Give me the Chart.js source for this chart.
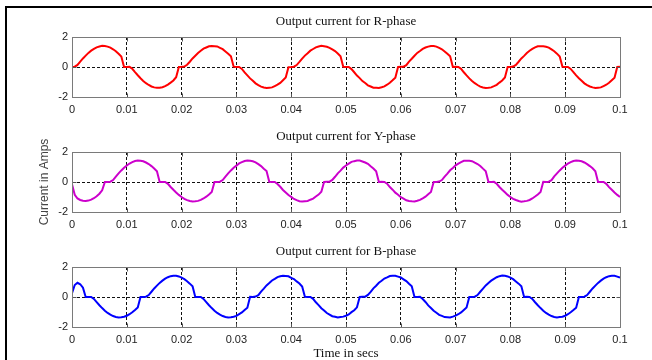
<!DOCTYPE html>
<html>
<head>
<meta charset="utf-8">
<title>Output currents</title>
<script src="https://cdn.jsdelivr.net/npm/chart.js@4.4.0/dist/chart.umd.min.js"></script>
<style>
  body { margin: 0; background: #fff; width: 652px; height: 360px; overflow: hidden; position: relative; }
  #frame { position: absolute; left: 5px; top: 6px; width: 700px; height: 400px; border-top: 2px solid #000; border-left: 2px solid #000; }
  canvas { position: absolute; left: 0; }
</style>
</head>
<body>
<div id="frame"></div>
<canvas id="rChart" width="652" height="115" style="top:0px"></canvas>
<canvas id="yChart" width="652" height="115" style="top:115px"></canvas>
<canvas id="bChart" width="652" height="130" style="top:230px"></canvas>
<script>
// sample instants, seconds
const timeSecs = [
  0, 0.0005, 0.001, 0.0015, 0.002, 0.0025, 0.003, 0.0035, 0.004, 0.0045, 0.005, 0.0055, 0.006, 0.0065, 0.007, 0.0075, 0.008, 0.0085, 0.009, 0.0095,
  0.01, 0.0105, 0.011, 0.0115, 0.012, 0.0125, 0.013, 0.0135, 0.014, 0.0145, 0.015, 0.0155, 0.016, 0.0165, 0.017, 0.0175, 0.018, 0.0185, 0.019, 0.0195,
  0.02, 0.0205, 0.021, 0.0215, 0.022, 0.0225, 0.023, 0.0235, 0.024, 0.0245, 0.025, 0.0255, 0.026, 0.0265, 0.027, 0.0275, 0.028, 0.0285, 0.029, 0.0295,
  0.03, 0.0305, 0.031, 0.0315, 0.032, 0.0325, 0.033, 0.0335, 0.034, 0.0345, 0.035, 0.0355, 0.036, 0.0365, 0.037, 0.0375, 0.038, 0.0385, 0.039, 0.0395,
  0.04, 0.0405, 0.041, 0.0415, 0.042, 0.0425, 0.043, 0.0435, 0.044, 0.0445, 0.045, 0.0455, 0.046, 0.0465, 0.047, 0.0475, 0.048, 0.0485, 0.049, 0.0495,
  0.05, 0.0505, 0.051, 0.0515, 0.052, 0.0525, 0.053, 0.0535, 0.054, 0.0545, 0.055, 0.0555, 0.056, 0.0565, 0.057, 0.0575, 0.058, 0.0585, 0.059, 0.0595,
  0.06, 0.0605, 0.061, 0.0615, 0.062, 0.0625, 0.063, 0.0635, 0.064, 0.0645, 0.065, 0.0655, 0.066, 0.0665, 0.067, 0.0675, 0.068, 0.0685, 0.069, 0.0695,
  0.07, 0.0705, 0.071, 0.0715, 0.072, 0.0725, 0.073, 0.0735, 0.074, 0.0745, 0.075, 0.0755, 0.076, 0.0765, 0.077, 0.0775, 0.078, 0.0785, 0.079, 0.0795,
  0.08, 0.0805, 0.081, 0.0815, 0.082, 0.0825, 0.083, 0.0835, 0.084, 0.0845, 0.085, 0.0855, 0.086, 0.0865, 0.087, 0.0875, 0.088, 0.0885, 0.089, 0.0895,
  0.09, 0.0905, 0.091, 0.0915, 0.092, 0.0925, 0.093, 0.0935, 0.094, 0.0945, 0.095, 0.0955, 0.096, 0.0965, 0.097, 0.0975, 0.098, 0.0985, 0.099, 0.0995,
  0.1
];

// phase currents, amps
const rPhaseAmps = [
  0, 0.02, 0.14, 0.36, 0.57, 0.76, 0.94, 1.09, 1.21, 1.31, 1.37, 1.41, 1.40, 1.36, 1.29, 1.18, 1.05, 0.88, 0.70, 0,
  0, 0.01, -0.12, -0.34, -0.55, -0.75, -0.93, -1.08, -1.20, -1.30, -1.36, -1.39, -1.39, -1.35, -1.28, -1.17, -1.04, -0.90, -0.68, 0,
  0.01, 0.03, 0.15, 0.35, 0.57, 0.75, 0.93, 1.08, 1.22, 1.30, 1.38, 1.40, 1.39, 1.37, 1.28, 1.19, 1.04, 0.89, 0.72, 0.02,
  0, 0, -0.13, -0.36, -0.56, -0.76, -0.92, -1.09, -1.21, -1.31, -1.37, -1.40, -1.38, -1.36, -1.27, -1.18, -1.06, -0.88, -0.70, -0.01,
  0, 0.02, 0.13, 0.34, 0.56, 0.76, 0.92, 1.09, 1.20, 1.31, 1.37, 1.41, 1.39, 1.35, 1.28, 1.17, 1.06, 0.90, 0.71, 0.01,
  0, 0, -0.14, -0.35, -0.57, -0.74, -0.94, -1.07, -1.22, -1.30, -1.38, -1.39, -1.40, -1.35, -1.29, -1.18, -1.05, -0.89, -0.72, 0,
  0.01, 0.02, 0.12, 0.36, 0.55, 0.75, 0.94, 1.07, 1.21, 1.30, 1.36, 1.40, 1.40, 1.36, 1.27, 1.18, 1.04, 0.88, 0.71, 0,
  0.01, 0, -0.12, -0.35, -0.56, -0.76, -0.93, -1.08, -1.20, -1.31, -1.37, -1.40, -1.39, -1.36, -1.28, -1.19, -1.04, -0.90, -0.70, 0,
  0, 0.03, 0.14, 0.35, 0.57, 0.74, 0.93, 1.08, 1.21, 1.31, 1.38, 1.39, 1.39, 1.35, 1.29, 1.17, 1.05, 0.89, 0.70, 0.01,
  0, 0, -0.13, -0.34, -0.56, -0.75, -0.92, -1.09, -1.21, -1.30, -1.36, -1.40, -1.38, -1.36, -1.27, -1.18, -1.05, -0.88, -0.71, 0,
  0.02
];

const yPhaseAmps = [
  -0.15, -0.85, -1.10, -1.20, -1.25, -1.26, -1.24, -1.18, -1.08, -0.95, -0.78, -0.55, 0, 0, 0.02, 0.13, 0.36, 0.57, 0.77, 0.95,
  1.10, 1.23, 1.33, 1.40, 1.43, 1.42, 1.38, 1.30, 1.20, 1.06, 0.90, 0.72, 0, 0, 0, -0.12, -0.33, -0.52, -0.70, -0.86,
  -1.00, -1.12, -1.21, -1.27, -1.30, -1.29, -1.26, -1.19, -1.10, -0.98, -0.83, -0.66, 0, 0, 0.02, 0.13, 0.36, 0.57, 0.77, 0.95,
  1.09, 1.24, 1.32, 1.40, 1.44, 1.41, 1.38, 1.31, 1.19, 1.06, 0.89, 0.73, 0.01, 0, 0, -0.13, -0.32, -0.53, -0.70, -0.87,
  -0.99, -1.13, -1.21, -1.28, -1.30, -1.28, -1.26, -1.18, -1.11, -0.97, -0.84, -0.65, 0, 0.01, 0.02, 0.14, 0.35, 0.58, 0.76, 0.96,
  1.10, 1.22, 1.34, 1.39, 1.43, 1.43, 1.37, 1.30, 1.21, 1.05, 0.90, 0.71, 0, 0.01, 0, -0.11, -0.34, -0.51, -0.71, -0.85,
  -1.01, -1.11, -1.22, -1.27, -1.29, -1.30, -1.25, -1.19, -1.09, -0.98, -0.82, -0.67, 0, 0, 0.03, 0.13, 0.36, 0.56, 0.78, 0.94,
  1.11, 1.23, 1.33, 1.41, 1.42, 1.42, 1.39, 1.29, 1.20, 1.07, 0.89, 0.72, 0, 0, 0.01, -0.12, -0.33, -0.52, -0.69, -0.86,
  -1.00, -1.12, -1.20, -1.27, -1.31, -1.29, -1.26, -1.20, -1.10, -0.97, -0.83, -0.66, 0.01, 0, 0.02, 0.12, 0.37, 0.57, 0.77, 0.95,
  1.09, 1.23, 1.32, 1.40, 1.43, 1.41, 1.38, 1.30, 1.19, 1.06, 0.91, 0.72, 0, 0, 0, -0.12, -0.34, -0.52, -0.70, -0.86,
  -1.00
];

const bPhaseAmps = [
  0.25, 0.80, 0.95, 0.85, 0.62, 0, 0, 0, -0.13, -0.34, -0.55, -0.74, -0.91, -1.06, -1.18, -1.27, -1.33, -1.36, -1.35, -1.32,
  -1.25, -1.15, -1.02, -0.87, -0.70, 0, 0, 0.02, 0.13, 0.35, 0.57, 0.76, 0.94, 1.09, 1.22, 1.32, 1.39, 1.42, 1.41, 1.37,
  1.29, 1.19, 1.05, 0.89, 0.71, 0, 0, 0, -0.13, -0.34, -0.55, -0.74, -0.91, -1.06, -1.18, -1.27, -1.33, -1.36, -1.35, -1.32,
  -1.26, -1.14, -1.03, -0.86, -0.71, 0.01, 0, 0.03, 0.12, 0.36, 0.56, 0.77, 0.93, 1.10, 1.21, 1.33, 1.38, 1.42, 1.40, 1.38,
  1.28, 1.20, 1.04, 0.90, 0.70, 0.01, 0, 0, -0.12, -0.35, -0.54, -0.75, -0.90, -1.07, -1.17, -1.28, -1.32, -1.37, -1.34, -1.31,
  -1.25, -1.16, -1.01, -0.88, -0.69, 0, 0.01, 0.02, 0.14, 0.34, 0.58, 0.75, 0.95, 1.08, 1.23, 1.31, 1.40, 1.41, 1.42, 1.36,
  1.30, 1.18, 1.06, 0.88, 0.72, 0, 0, 0.01, -0.14, -0.33, -0.56, -0.73, -0.92, -1.05, -1.19, -1.26, -1.34, -1.35, -1.36, -1.31,
  -1.24, -1.15, -1.03, -0.86, -0.70, 0, 0, 0.02, 0.13, 0.35, 0.56, 0.77, 0.94, 1.09, 1.21, 1.32, 1.39, 1.43, 1.41, 1.37,
  1.29, 1.19, 1.04, 0.89, 0.71, 0, 0.01, 0, -0.13, -0.35, -0.55, -0.74, -0.91, -1.06, -1.18, -1.27, -1.33, -1.36, -1.34, -1.32,
  -1.25, -1.15, -1.02, -0.87, -0.71, 0, 0, 0.02, 0.13, 0.35, 0.57, 0.76, 0.94, 1.09, 1.22, 1.32, 1.39, 1.42, 1.41, 1.36,
  1.29
];

const timeTicks = [0, 0.01, 0.02, 0.03, 0.04, 0.05, 0.06, 0.07, 0.08, 0.09, 0.1];
const currentTicks = [-2, 0, 2];

// titles, axis box, inward tick marks and axis labels
const panelDecor = {
  id: 'panelDecor',
  afterDraw(chart, args, opts) {
    const { ctx, chartArea: area, scales } = chart;
    const xs = scales.x, ys = scales.y;
    const left = Math.round(area.left) + 0.5, right = Math.round(area.right) + 0.5;
    const top = Math.round(area.top) + 0.5, bottom = Math.round(area.bottom) + 0.5;
    ctx.save();
    ctx.strokeStyle = '#555';
    ctx.lineWidth = 1;
    ctx.beginPath();
    xs.ticks.forEach(t => {
      const px = Math.round(xs.getPixelForValue(t.value)) + 0.5;
      ctx.moveTo(px, top); ctx.lineTo(px, top + 4);
      ctx.moveTo(px, bottom); ctx.lineTo(px, bottom - 4);
    });
    ys.ticks.forEach(t => {
      const py = Math.round(ys.getPixelForValue(t.value)) + 0.5;
      ctx.moveTo(left, py); ctx.lineTo(left + 4, py);
      ctx.moveTo(right, py); ctx.lineTo(right - 4, py);
    });
    ctx.stroke();
    ctx.strokeStyle = '#7a7a7a';
    ctx.strokeRect(left, top, right - left, bottom - top);

    ctx.fillStyle = '#111';
    ctx.textAlign = 'center';
    ctx.textBaseline = 'middle';
    ctx.font = '13px "Liberation Serif"';
    ctx.fillText(opts.title, (area.left + area.right) / 2, area.top - 15);
    if (opts.xLabel) {
      ctx.fillText(opts.xLabel, (area.left + area.right) / 2, area.bottom + 27);
    }
    if (opts.yLabel) {
      ctx.save();
      ctx.translate(45, (area.top + area.bottom) / 2);
      ctx.rotate(-Math.PI / 2);
      ctx.fillStyle = '#444';
      ctx.font = '12px "Liberation Sans"';
      ctx.fillText(opts.yLabel, 0, 0);
      ctx.restore();
    }
    ctx.restore();
  }
};

const gridDash = [3, 2];
const tickFont = { family: '"Liberation Sans", Arial, sans-serif', size: 11 };

function createPhaseChart(canvasId, values, color, decor, bottomPad) {
  const points = timeSecs.map((t, i) => ({ x: t, y: values[i] }));
  return new Chart(document.getElementById(canvasId), {
    type: 'line',
    data: {
      datasets: [{
        data: points,
        borderColor: color,
        borderWidth: 2,
        pointRadius: 0,
        tension: 0,
        fill: false
      }]
    },
    options: {
      responsive: false,
      animation: false,
      devicePixelRatio: 1,
      events: [],
      layout: { padding: { left: 42, right: 32, top: 37, bottom: bottomPad } },
      plugins: {
        legend: { display: false },
        tooltip: { enabled: false },
        panelDecor: decor
      },
      scales: {
        x: {
          type: 'linear',
          min: 0,
          max: 0.1,
          afterBuildTicks: scale => { scale.ticks = timeTicks.map(v => ({ value: v })); },
          afterFit: scale => { scale.height = 18; },
          ticks: {
            autoSkip: false,
            maxRotation: 0,
            padding: 6,
            color: '#222',
            font: tickFont,
            callback: v => String(v)
          },
          grid: {
            drawTicks: false,
            lineWidth: 1,
            color: ctx => (ctx.tick && ctx.tick.value > 0 && ctx.tick.value < 0.1) ? '#111' : 'rgba(0,0,0,0)'
          },
          border: { display: false, dash: gridDash }
        },
        y: {
          min: -2,
          max: 2,
          afterBuildTicks: scale => { scale.ticks = currentTicks.map(v => ({ value: v })); },
          afterFit: scale => { scale.width = 30; },
          ticks: {
            padding: 4,
            color: '#222',
            font: tickFont,
            callback: v => String(v)
          },
          grid: {
            drawTicks: false,
            lineWidth: 1,
            color: ctx => (ctx.tick && ctx.tick.value === 0) ? '#111' : 'rgba(0,0,0,0)'
          },
          border: { display: false, dash: gridDash }
        }
      }
    },
    plugins: [panelDecor]
  });
}

createPhaseChart('rChart', rPhaseAmps, '#ff0000', { title: 'Output current for R-phase' }, 0);
createPhaseChart('yChart', yPhaseAmps, '#cc00cc', { title: 'Output current for Y-phase', yLabel: 'Current in Amps' }, 0);
createPhaseChart('bChart', bPhaseAmps, '#0000ff', { title: 'Output current for B-phase', xLabel: 'Time in secs' }, 15);
</script>
</body>
</html>
